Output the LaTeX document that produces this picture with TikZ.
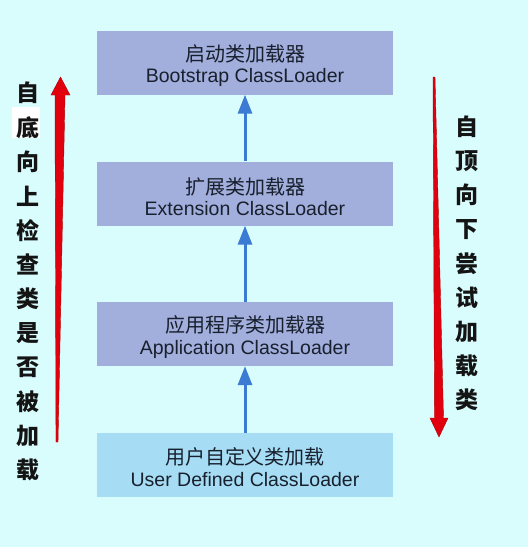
\documentclass[tikz,border=0pt]{standalone}
\usepackage{fontspec}
\setmainfont{Liberation Sans}
\newfontfamily\cjk{Noto Sans CJK SC}
\usetikzlibrary{arrows.meta}
\definecolor{bg}{HTML}{D9FCFD}
\definecolor{boxA}{HTML}{A2AEDC}
\definecolor{boxB}{HTML}{A6DDF4}
\definecolor{txt}{HTML}{18202E}
\definecolor{arrowblue}{HTML}{3B7BD4}
\definecolor{bigred}{HTML}{E0000E}
\tikzset{
  loader/.style={fill=boxA, draw=none, minimum width=296pt, minimum height=64pt,
    inner sep=0pt, align=center, text=txt,
    font=\fontsize{19.5}{21.5}\selectfont},
  userloader/.style={loader, fill=boxB},
  label/.style={inner sep=0pt, align=center, text=txt,
    font=\fontsize{19.5}{21.5}\selectfont},
  up/.style={draw=arrowblue, line width=3pt,
    -{Triangle[width=14pt,length=19pt]}},
  vchar/.style={inner sep=0pt, text=black!92,
    font=\cjk\bfseries\fontsize{23}{23}\selectfont},
  bigarrow/.style={fill=bigred, draw=red!70!black, line width=0.4pt}
}
\begin{document}
\begin{tikzpicture}[x=1pt,y=1pt]
\useasboundingbox (0,0) rectangle (528,-547);
\fill[bg] (0,0) rectangle (528,-547);

% loader boxes
\node[loader] (b1) at (245,-62.5) {};
\node[loader] (b2) at (245,-193.5) {};
\node[loader] (b3) at (245,-334) {};
\node[userloader] (b4) at (245,-465) {};
\node[label] (t1) at ([yshift=-3pt]b1.center) {{\cjk\fontsize{20}{21.5}\selectfont 启动类加载器}\\Bootstrap ClassLoader};
\node[label] (t2) at ([yshift=-3pt]b2.center) {{\cjk\fontsize{20}{21.5}\selectfont 扩展类加载器}\\Extension ClassLoader};
\node[label] (t3) at ([yshift=-3pt]b3.center) {{\cjk\fontsize{20}{21.5}\selectfont 应用程序类加载器}\\Application ClassLoader};
\node[label] (t4) at ([yshift=-2pt]b4.center) {{\cjk\fontsize{20}{21.5}\selectfont 用户自定义类加载}\\User Defined ClassLoader};

% blue delegation arrows
\draw[up] (b2.north) -- (b1.south);
\draw[up] (b3.north) -- (b2.south);
\draw[up] (b4.north) -- (b3.south);

% left tapered red arrow (upwards)
\fill[white] (12,-107) rectangle (40,-138);
\filldraw[bigarrow] (56,-442) -- (58,-442) -- (65,-95) -- (70,-95) -- (60.5,-77)
  -- (51,-95) -- (55,-95) -- cycle;
% right tapered red arrow (downwards)
\filldraw[bigarrow] (433,-77) -- (435,-77) -- (443.5,-418) -- (448,-418) -- (439,-437)
  -- (430,-418) -- (434.5,-418) -- cycle;

% left vertical text
\foreach \c [count=\i from 0] in {自,底,向,上,检,查,类,是,否,被,加,载}
  \node[vchar] (l\i) at (28,-93-34.3*\i) {\c};
% right vertical text
\foreach \c [count=\i from 0] in {自,顶,向,下,尝,试,加,载,类}
  \node[vchar] (r\i) at (467,-127-34.1*\i) {\c};
\end{tikzpicture}
\end{document}
